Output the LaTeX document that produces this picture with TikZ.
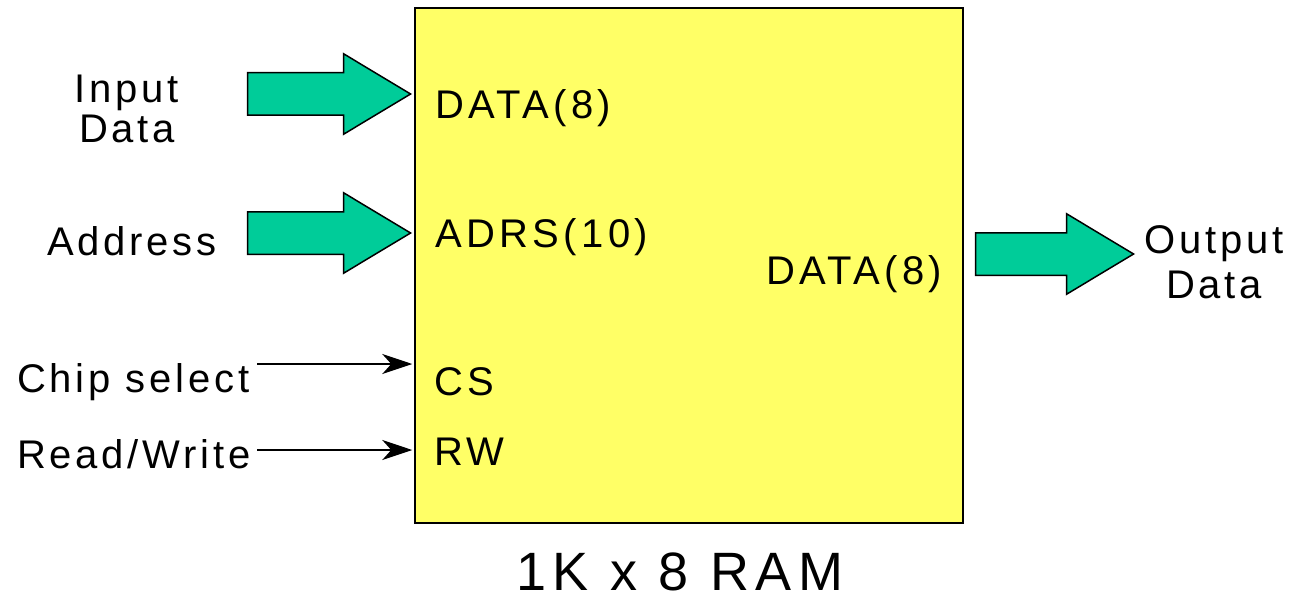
\documentclass[tikz,border=0pt]{standalone}
\usepackage{fontspec}
\setmainfont[LetterSpace=9.5]{Liberation Sans}
\usetikzlibrary{positioning, arrows.meta, shapes.arrows}
\definecolor{ramyellow}{RGB}{255,255,102}
\definecolor{busgreen}{RGB}{0,204,153}
\tikzset{
	chip/.style={draw, line width=1.5pt, fill=ramyellow, minimum width=548pt, minimum height=515pt, inner sep=0pt},
	pin/.style={anchor=base west, inner sep=0pt, font=\fontsize{40}{40}\selectfont\addfontfeature{LetterSpace=11}},
	signal/.style={inner sep=0pt, align=center, font=\fontsize{40}{40}\selectfont},
	% fat arrows for the data and address buses
	bus/.style={draw, line width=1.5pt, fill=busgreen, single arrow, single arrow tip angle=62, single arrow head extend=19pt, minimum height=163pt, inner xsep=0pt, inner ysep=20.5pt, anchor=tip},
	wire/.style={line width=1.5pt, -{Stealth[length=30pt, width=20pt, inset=9pt]}},
}

\begin{document}
\begin{tikzpicture}[x=1pt, y=-1pt]
	\useasboundingbox (0,0) rectangle (1292,599);
	
	\node (ram) [chip] at (689,265.5) {};
	\node (title) [anchor=base, inner sep=0pt, font=\fontsize{54}{54}\selectfont\addfontfeature{LetterSpace=12}] at (680,590) {1K x 8 RAM};
	
	% pins inside the chip
	\node (datain) [pin] at (435,118) {DATA(8)};
	\node (adrs) [pin] at (435,247) {ADRS(10)};
	\node (cs) [pin] at (434,395) {CS};
	\node (rw) [pin] at (434,465) {RW};
	\node (dataout) [pin] at (766,284) {DATA(8)};
	
	% signals outside
	\node (indata) [signal] at (127,109) {Input\\Data};
	\node (address) [signal, anchor=base] at (132,255) {Address};
	\node (chipsel) [signal, anchor=base west] at (17,392) {Chip select};
	\node (readwrite) [signal, anchor=base west] at (17,468) {Read/Write};
	\node (outdata) [signal, font=\fontsize{40}{45}\selectfont] at (1214,262) {Output\\Data};
	
	\node (busin) [bus] at (412,94) {};
	\node (busadrs) [bus] at (412,233) {};
	\node (busout) [bus, minimum height=158pt] at (1135,254) {};
	
	\coordinate (csin) at (257,364);
	\coordinate (rwin) at (257,450);
	\draw[wire] (csin) -- ([xshift=-2pt]ram.west |- csin);
	\draw[wire] (rwin) -- ([xshift=-2pt]ram.west |- rwin);
	
\end{tikzpicture}
\end{document}
